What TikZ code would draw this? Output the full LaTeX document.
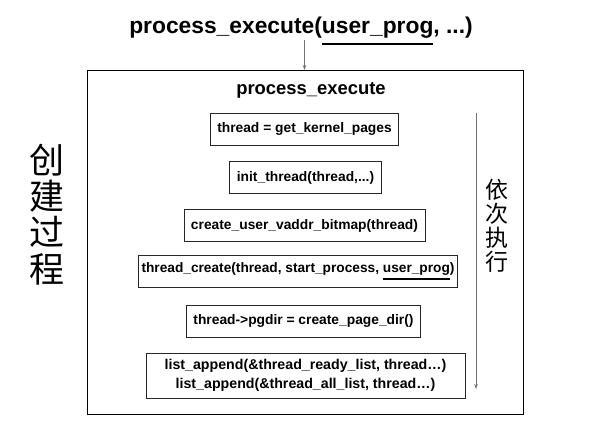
\documentclass[tikz,border=0pt]{standalone}
\usepackage{fontspec}
\setmainfont{Liberation Sans}
\newfontfamily\cjk{Noto Sans CJK SC}
\usetikzlibrary{arrows.meta}
\newcommand\myul[3]{\leavevmode\setbox0\hbox{#1}\rlap{\rule[-#2]{\wd0}{#3}}\box0}
\begin{document}
\begin{tikzpicture}[x=1pt,y=-1pt,
  codebox/.style={draw=black!85, line width=0.8pt, inner xsep=7pt, minimum height=32pt, font=\fontsize{13.8}{19}\selectfont\bfseries},
  flow/.style={draw=black!55, line width=0.8pt, -{Stealth[length=5pt,width=3.5pt]}}]
\useasboundingbox (0,0) rectangle (602,432);
\node[anchor=base, inner sep=0pt, font=\fontsize{22.8}{26}\selectfont\bfseries] (title) at (301,33) {process\_execute(\myul{user\_prog}{12.2pt}{2.5pt}, ...)};
\node[draw, line width=1.3pt, minimum width=436pt, minimum height=344pt, inner sep=0pt, anchor=north west] (outer) at (87,70) {};
\node[font=\fontsize{18.4}{22}\selectfont\bfseries] (head) at (311,90.5) {process\_execute};
\node[codebox] (b1) at (304.5,129) {thread = get\_kernel\_pages};
\node[codebox] (b2) at (305.5,177.5) {init\_thread(thread,...)};
\node[codebox] (b3) at (304.5,225.5) {create\_user\_vaddr\_bitmap(thread)};
\node[codebox, inner xsep=3pt, font=\fontsize{13.7}{19}\selectfont\bfseries] (b4) at (298,271.5) {thread\_create(thread, start\_process, \myul{user\_prog}{7.7pt}{2pt})};
\node[codebox] (b5) at (303.5,321) {thread->pgdir = create\_page\_dir()};
\node[codebox, align=center, minimum width=319pt, minimum height=45pt, font=\fontsize{14.2}{19}\selectfont\bfseries] (b6) at (305.5,375.5) {list\_append(\&thread\_ready\_list, thread…)\\list\_append(\&thread\_all\_list, thread…)};
\draw[flow] ([yshift=-7pt]title.base -| b1.center) -- (outer.north -| b1.center);
\coordinate (otop) at (476,113);
\coordinate (obot) at (476,389);
\draw[flow] (otop) -- (obot);
\node[font=\cjk\fontsize{23}{24}\selectfont, align=center] (order) at (497,225.5) {依\\次\\执\\行};
\node[font=\cjk\fontsize{35}{36.3}\selectfont, align=center] (create) at (47,214.5) {创\\建\\过\\程};
\end{tikzpicture}
\end{document}
